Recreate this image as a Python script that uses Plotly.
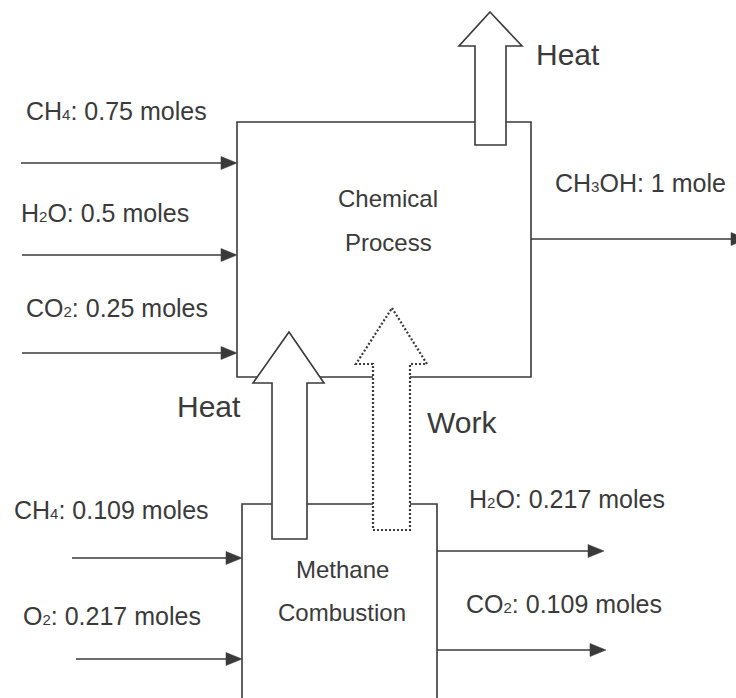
import plotly.graph_objects as go

# stream data (moles)
SUB = '<span style="font-size:15px">{}</span>'
chem_in_names = ["CH" + SUB.format(4), "H" + SUB.format(2) + "O", "CO" + SUB.format(2)]
chem_in_moles = [0.75, 0.5, 0.25]
chem_out_names = ["CH" + SUB.format(3) + "OH"]
chem_out_moles = [1]
comb_in_names = ["CH" + SUB.format(4), "O" + SUB.format(2)]
comb_in_moles = [0.109, 0.217]
comb_out_names = ["H" + SUB.format(2) + "O", "CO" + SUB.format(2)]
comb_out_moles = [0.217, 0.109]
unit_names = ["Chemical<br>Process", "Methane<br>Combustion"]
energy_names = ["Heat", "Heat", "Work"]

# layout positions (pixels, y down)
W, H = 736, 698
chem_box = (237, 122, 531, 377)
comb_box = (242, 504, 437, 700)
chem_in_y = [163, 255, 353]
chem_in_x0 = [21, 22, 22]
chem_in_lbl = [(24, 111), (19, 213), (24, 308)]
chem_out_y = [239]
chem_out_lbl = [(553, 183)]
comb_in_y = [558, 659]
comb_in_x0 = [72, 76]
comb_in_lbl = [(12, 510), (21, 616)]
comb_out_y = [551, 650]
comb_out_x1 = [604, 606]
comb_out_lbl = [(467, 499), (464, 604)]

INK = "#3a3a3a"
FONT = "Liberation Sans, Arial, sans-serif"

fig = go.Figure()
shapes = []
annos = []


def line_arrow(x0, x1, y, head=16, half=6.5):
    shapes.append(dict(type="line", x0=x0, x1=x1 - head + 1, y0=y, y1=y,
                       line=dict(color=INK, width=1.6)))
    shapes.append(dict(type="path",
                       path=f"M{x1},{y} L{x1 - head},{y - half} L{x1 - head},{y + half} Z",
                       fillcolor=INK, line=dict(color=INK, width=0.5)))


def block_arrow(tip, head_y, hx0, hx1, sx0, sx1, bottom, dash="solid"):
    tx, ty = tip
    p = (f"M{tx},{ty} L{hx1},{head_y} L{sx1},{head_y} L{sx1},{bottom} "
         f"L{sx0},{bottom} L{sx0},{head_y} L{hx0},{head_y} Z")
    shapes.append(dict(type="path", path=p, fillcolor="white",
                       line=dict(color=INK, width=2.2 if dash != "solid" else 1.6, dash=dash)))


def label(text, x, y, size=25, xanchor="left"):
    annos.append(dict(text=text, x=x, y=y, xref="x", yref="y", showarrow=False,
                      xanchor=xanchor, yanchor="middle",
                      font=dict(family=FONT, size=size, color=INK)))


def moles_text(name, m):
    return f"{name}: {m} mole" + ("" if m == 1 else "s")


# unit boxes
x0, y0, x1, y1 = chem_box
shapes.append(dict(type="rect", x0=x0, y0=y0, x1=x1, y1=y1, line=dict(color=INK, width=1.6)))
x0, y0, x1, y1 = comb_box
shapes.append(dict(type="path", path=f"M{x0},{y1} L{x0},{y0} L{x1},{y0} L{x1},{y1}",
                   line=dict(color=INK, width=1.6)))

# energy arrows
block_arrow((490, 12), 46, 459, 522, 475, 506, 145)
block_arrow((289, 332), 383, 253, 324, 272, 307, 539)
block_arrow((392, 308), 364, 356, 427, 373, 410, 530, dash="2px,2px")

# material streams
for n, m, y, xs, (lx, ly) in zip(chem_in_names, chem_in_moles, chem_in_y, chem_in_x0, chem_in_lbl):
    line_arrow(xs, chem_box[0], y)
    label(moles_text(n, m), lx, ly)
for n, m, y, (lx, ly) in zip(chem_out_names, chem_out_moles, chem_out_y, chem_out_lbl):
    line_arrow(chem_box[2], 747, y)
    label(moles_text(n, m), lx, ly)
for n, m, y, xs, (lx, ly) in zip(comb_in_names, comb_in_moles, comb_in_y, comb_in_x0, comb_in_lbl):
    line_arrow(xs, comb_box[0], y)
    label(moles_text(n, m), lx, ly)
for n, m, y, xe, (lx, ly) in zip(comb_out_names, comb_out_moles, comb_out_y, comb_out_x1, comb_out_lbl):
    line_arrow(comb_box[2], xe, y)
    label(moles_text(n, m), lx, ly)

# unit names
for name, cx, ys in zip(unit_names, [388, 342], [(198, 242), (569, 612)]):
    for part, yy in zip(name.split("<br>"), ys):
        label(part, cx, yy, size=24, xanchor="center")

# energy labels
for name, (lx, ly), xa in zip(energy_names, [(534, 54), (243, 406), (425, 422)], ["left", "right", "left"]):
    label(name, lx, ly, size=30, xanchor=xa)

fig.update_layout(
    width=W, height=H,
    margin=dict(l=0, r=0, t=0, b=0),
    paper_bgcolor="white", plot_bgcolor="white",
    xaxis=dict(range=[0, W], visible=False, fixedrange=True),
    yaxis=dict(range=[H, 0], visible=False, fixedrange=True),
    shapes=shapes, annotations=annos,
    showlegend=False,
)

fig.write_html("out.html", config={"displayModeBar": False},
               post_script="document.body.style.margin='0px';")
